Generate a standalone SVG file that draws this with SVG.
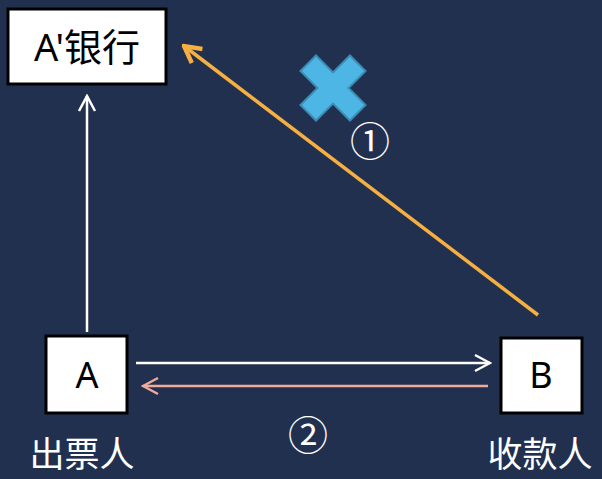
<svg xmlns="http://www.w3.org/2000/svg" width="602" height="479" viewBox="0 0 602 479">
<style>
.box{fill:#fff;stroke:#000;stroke-width:3}
.t{font-family:"Noto Sans","Noto Sans CJK SC",sans-serif;fill:#000;text-anchor:middle}
.lbl{font-family:"Noto Sans CJK SC","Noto Sans",sans-serif;fill:#fff;text-anchor:middle}
.ln{fill:none;stroke-width:2.5}
</style>
<defs>
<marker id="aw" viewBox="0 0 20 20" refX="18" refY="10" markerWidth="20" markerHeight="20" markerUnits="userSpaceOnUse" orient="auto"><path d="M3 2 L18 10 L3 18" fill="none" stroke="#fff" stroke-width="2.5"/></marker>
<marker id="ap" viewBox="0 0 20 20" refX="18" refY="10" markerWidth="20" markerHeight="20" markerUnits="userSpaceOnUse" orient="auto"><path d="M3 2 L18 10 L3 18" fill="none" stroke="#f0aa9c" stroke-width="2.5"/></marker>
<marker id="ao" viewBox="0 0 20 20" refX="18" refY="10" markerWidth="22" markerHeight="22" markerUnits="userSpaceOnUse" orient="auto"><path d="M3 2 L18 10 L3 18" fill="none" stroke="#f5b041" stroke-width="4"/></marker>
</defs>
<rect width="602" height="479" fill="#22304f"/>
<g id="connectors">
<line class="ln" x1="87" y1="332" x2="87" y2="96" stroke="#fff" marker-end="url(#aw)"/>
<line class="ln" x1="136" y1="363" x2="490" y2="363" stroke="#fff" marker-end="url(#aw)"/>
<line class="ln" x1="488" y1="386" x2="143" y2="386" stroke="#f0aa9c" marker-end="url(#ap)"/>
<line x1="538" y1="315" x2="184" y2="46" stroke="#f5b041" stroke-width="3.5" marker-end="url(#ao)"/>
</g>
<g id="cross">
<path d="M-35 -11 H-11 V-35 H11 V-11 H35 V11 H11 V35 H-11 V11 H-35 Z" transform="translate(333 88) rotate(45)" fill="#4eb6e4" stroke="#3a8cb4" stroke-width="2"/>
</g>
<g id="node-bank">
<rect class="box" x="8" y="9" width="158" height="75"/>
<text class="t" x="87" y="61" font-size="38">A'银行</text>
</g>
<g id="node-a">
<rect class="box" x="46" y="336" width="81" height="77"/>
<text class="t" x="87" y="388" font-size="36">A</text>
<text class="lbl" x="82" y="467" font-size="35">出票人</text>
</g>
<g id="node-b">
<rect class="box" x="501" y="338" width="81" height="75"/>
<text class="t" x="541" y="388" font-size="36">B</text>
<text class="lbl" x="540" y="467" font-size="35">收款人</text>
</g>
<text class="lbl" x="370" y="156" font-size="40">①</text>
<text class="lbl" x="308" y="450" font-size="40">②</text>
</svg>
